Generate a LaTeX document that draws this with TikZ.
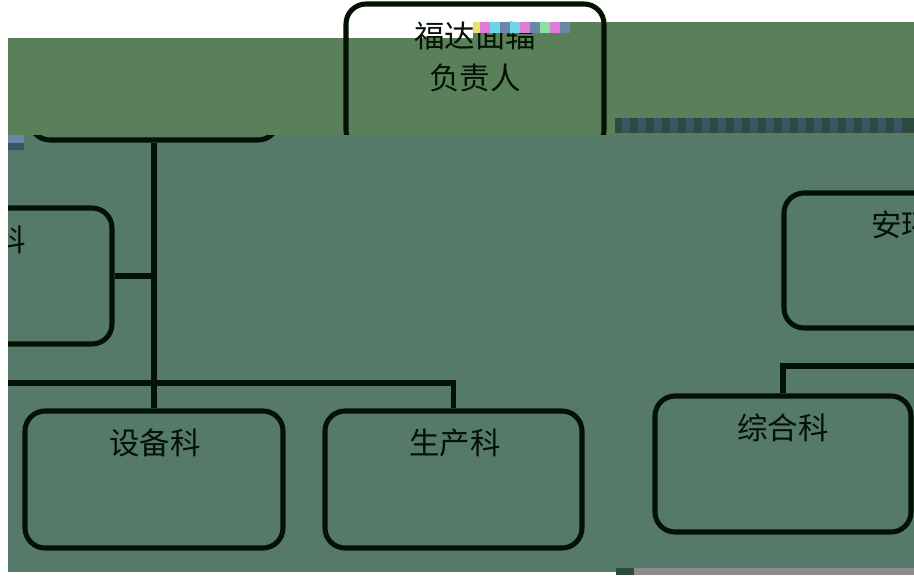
\documentclass[tikz,border=0pt]{standalone}
\usepackage{fontspec}
\newfontfamily\cjk{Noto Sans CJK SC}
\usetikzlibrary{positioning}
\definecolor{bandgreen}{HTML}{5A805A}
\definecolor{lowgreen}{HTML}{567A6A}
\definecolor{ink}{HTML}{031203}
\definecolor{stripdark}{HTML}{2E4A3E}
\definecolor{stripblue}{HTML}{3A5666}
\definecolor{gpink}{HTML}{E07AD8}
\definecolor{gcyan}{HTML}{6CD6E6}
\definecolor{gslate}{HTML}{6A86A8}
\definecolor{gmint}{HTML}{8AE0A0}
\definecolor{gyellow}{HTML}{E8E070}

\begin{document}
\begin{tikzpicture}[x=0.03cm,y=-0.03cm,
    box/.style={draw=ink,line width=4.3pt,rounded corners=0.6cm,inner sep=0pt},
    ttl/.style={font=\cjk\fontsize{26}{35.8}\selectfont,inner sep=0pt,text=ink},
    link/.style={draw=ink,line width=5pt}]
  \useasboundingbox (0,0) rectangle (914,575);

  % corrupted upper band
  \fill[bandgreen] (8,38) rectangle (473,135);
  \fill[bandgreen] (473,22) rectangle (914,135);

  % head box
  \node[box,minimum width=7.74cm,minimum height=4.38cm] (fdfz) at (475,77) {};
  \node[ttl,align=center] (fdfzt) at (475,57) {福达面辐\\负责人};
  \foreach \gx/\gc in {473/gyellow,480/gpink,490/gcyan,500/gslate,510/gcyan,520/gpink,530/gslate,540/gmint,550/gpink,560/gslate}
    \fill[\gc] (\gx,22) rectangle ++(10,11);

  % striped strip
  \fill[stripdark] (615,118) rectangle (914,133);
  \foreach \sx in {622,638,...,906}
    \fill[stripblue] (\sx,118) rectangle ++(8,15);

  % lower part
  \fill[lowgreen] (8,135) rectangle (634,572);
  \fill[lowgreen] (634,135) rectangle (914,568);
  \fill[gray!90] (634,568) rectangle (914,575);
  \fill[stripdark] (616,568) rectangle (634,575);

  \begin{scope}
    \clip (8,135) rectangle (914,572);
    \node[box,minimum width=7.44cm,minimum height=2.4cm] (glb) at (154,100) {};
    \node[box,minimum width=7.68cm,minimum height=4.08cm] (leftk) at (-16,276) {};
    \node[box,minimum width=7.68cm,minimum height=4.05cm] (ahk) at (912,260.5) {};
    \node[box,minimum width=7.74cm,minimum height=4.11cm] (sbk) at (154,479.5) {};
    \node[box,minimum width=7.71cm,minimum height=4.11cm] (sck) at (453.5,479.5) {};
    \node[box,minimum width=7.68cm,minimum height=4.08cm] (zhk) at (783,464) {};

    \node[ttl] (leftkt) at (11,240) {科};
    \node[ttl] (ahkt) at (917,225) {安环科};
    \node[ttl] (sbkt) at (155,443) {设备科};
    \node[ttl] (sckt) at (455,443) {生产科};
    \node[ttl] (zhkt) at (783,428) {综合科};

    \coordinate (lend) at (0,383);
    \coordinate (rend) at (930,366);
    \draw[link] (glb.south) -- (sbk.north);
    \draw[link] (leftk.east) -- (leftk.east -| glb.south);
    \draw[link] (lend) -| (sck.north);
    \draw[link] (zhk.north) |- (rend);
  \end{scope}

  % left speck
  \fill[gslate] (8,135) rectangle (24,143);
  \fill[stripblue] (8,143) rectangle (24,150);
\end{tikzpicture}
\end{document}
